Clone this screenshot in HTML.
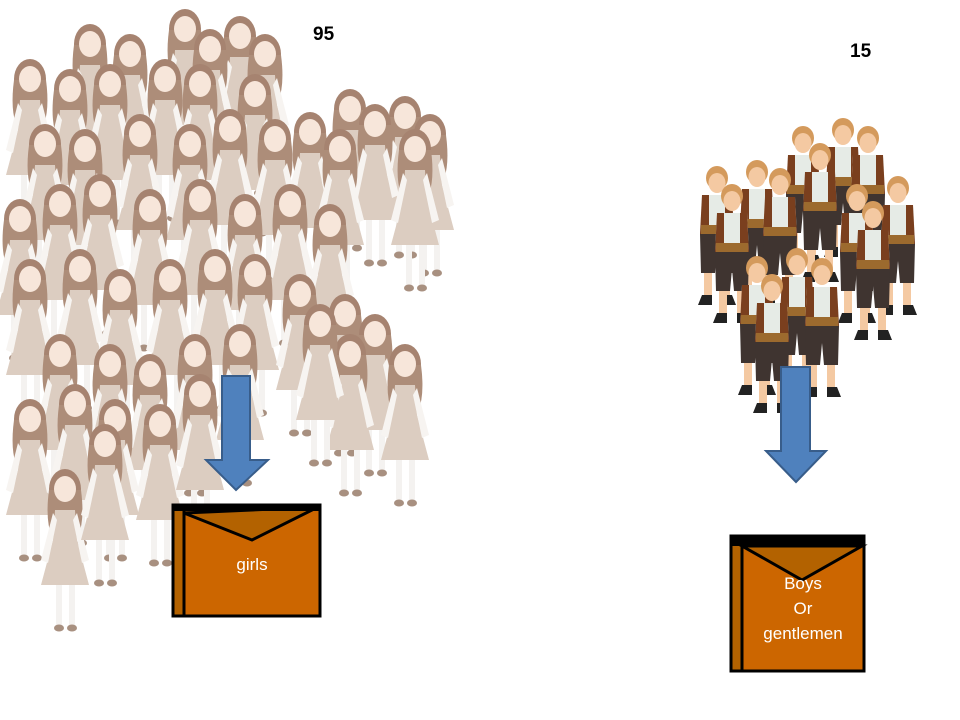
<!DOCTYPE html>
<html><head><meta charset="utf-8"><style>
html,body{margin:0;padding:0;background:#fff;}
body{width:960px;height:720px;position:relative;overflow:hidden;font-family:"Liberation Sans",sans-serif;}
.n{position:absolute;font-weight:bold;font-size:19px;color:#000;}
.lbl{position:absolute;color:#fff;font-family:"Liberation Sans",sans-serif;font-size:17px;text-align:center;line-height:25px;}
</style></head><body>
<svg width="960" height="720" style="position:absolute;left:0;top:0">
<defs>
<g id="girl">
  <ellipse cx="0" cy="24" rx="16" ry="20" fill="#a68370"/>
  <path d="M-16 25 Q-20 55 -13 72 L13 72 Q20 55 16 25Z" fill="#ad8d79"/>
  <ellipse cx="0" cy="24" rx="11" ry="13" fill="#f7e6da"/>
  <path d="M-10 45 L10 45 L12 75 L24 120 L-24 120 L-12 75Z" fill="#dccdc1"/>
  <path d="M-12 48 L-24 95 L-17 98 L-8 55Z" fill="#f7f4f1"/>
  <path d="M12 48 L24 95 L17 98 L8 55Z" fill="#f7f4f1"/>
  <rect x="-9" y="120" width="6" height="40" fill="#f4f2f0"/>
  <rect x="4" y="120" width="6" height="40" fill="#f4f2f0"/>
  <ellipse cx="-6" cy="163" rx="5" ry="3.5" fill="#a89080"/>
  <ellipse cx="7" cy="163" rx="5" ry="3.5" fill="#a89080"/>
</g>
<g id="boy">
  <ellipse cx="0" cy="10" rx="11" ry="12" fill="#d49a5c"/>
  <ellipse cx="0" cy="15" rx="8.5" ry="10" fill="#f4c9a2"/>
  <path d="M-15 27 L15 27 L17 66 L-17 66Z" fill="#e6ebe6"/>
  <path d="M-15 27 L-8 27 L-8 66 L-17 66Z" fill="#7a3f1e"/>
  <path d="M15 27 L8 27 L8 66 L17 66Z" fill="#7a3f1e"/>
  <rect x="-16" y="57" width="32" height="9" fill="#9c6a2e"/>
  <path d="M-17 66 L17 66 L16 105 L2 105 L0 83 L-2 105 L-16 105Z" fill="#3f3430"/>
  <rect x="-13" y="105" width="8" height="22" fill="#f4c9a2"/>
  <rect x="5" y="105" width="8" height="22" fill="#f4c9a2"/>
  <path d="M-15 127 L-5 127 L-5 137 L-19 137Z" fill="#222"/>
  <path d="M5 127 L15 127 L19 137 L5 137Z" fill="#222"/>
</g>
</defs>
<g>
<use href="#girl" x="90" y="20"/><use href="#girl" x="185" y="5"/><use href="#girl" x="240" y="12"/>
<use href="#girl" x="130" y="30"/><use href="#girl" x="210" y="25"/><use href="#girl" x="265" y="30"/>
<use href="#girl" x="30" y="55"/><use href="#girl" x="70" y="65"/><use href="#girl" x="110" y="60"/>
<use href="#girl" x="165" y="55"/><use href="#girl" x="200" y="60"/><use href="#girl" x="255" y="70"/>
<use href="#girl" x="350" y="85"/><use href="#girl" x="405" y="92"/><use href="#girl" x="375" y="100"/>
<use href="#girl" x="310" y="108"/><use href="#girl" x="275" y="115"/><use href="#girl" x="430" y="110"/>
<use href="#girl" x="45" y="120"/><use href="#girl" x="85" y="125"/><use href="#girl" x="140" y="110"/>
<use href="#girl" x="190" y="120"/><use href="#girl" x="230" y="105"/><use href="#girl" x="340" y="125"/>
<use href="#girl" x="415" y="125"/><use href="#girl" x="20" y="195"/><use href="#girl" x="60" y="180"/>
<use href="#girl" x="100" y="170"/><use href="#girl" x="150" y="185"/><use href="#girl" x="200" y="175"/>
<use href="#girl" x="245" y="190"/><use href="#girl" x="290" y="180"/><use href="#girl" x="330" y="200"/>
<use href="#girl" x="30" y="255"/><use href="#girl" x="80" y="245"/><use href="#girl" x="120" y="265"/>
<use href="#girl" x="170" y="255"/><use href="#girl" x="215" y="245"/><use href="#girl" x="255" y="250"/>
<use href="#girl" x="300" y="270"/><use href="#girl" x="345" y="290"/><use href="#girl" x="375" y="310"/>
<use href="#girl" x="405" y="340"/><use href="#girl" x="350" y="330"/><use href="#girl" x="320" y="300"/>
<use href="#girl" x="60" y="330"/><use href="#girl" x="110" y="340"/><use href="#girl" x="150" y="350"/>
<use href="#girl" x="195" y="330"/><use href="#girl" x="240" y="320"/><use href="#girl" x="30" y="395"/>
<use href="#girl" x="75" y="380"/><use href="#girl" x="115" y="395"/><use href="#girl" x="160" y="400"/>
<use href="#girl" x="200" y="370"/><use href="#girl" x="65" y="465"/><use href="#girl" x="105" y="420"/>
</g>
<g>
<use href="#boy" x="803" y="128"/><use href="#boy" x="843" y="120"/><use href="#boy" x="868" y="128"/>
<use href="#boy" x="820" y="145"/><use href="#boy" x="717" y="168"/><use href="#boy" x="757" y="162"/>
<use href="#boy" x="780" y="170"/><use href="#boy" x="732" y="186"/><use href="#boy" x="857" y="186"/>
<use href="#boy" x="898" y="178"/><use href="#boy" x="873" y="203"/><use href="#boy" x="757" y="258"/>
<use href="#boy" x="797" y="250"/><use href="#boy" x="772" y="276"/><use href="#boy" x="822" y="260"/>
</g>
<path d="M222 376 L250 376 L250 460 L268 460 L236 490 L206 460 L222 460Z" fill="#4f81bd" stroke="#385d8a" stroke-width="2"/>
<path d="M781 367 L810 367 L810 451 L826 451 L796 482 L766 451 L781 451Z" fill="#4f81bd" stroke="#385d8a" stroke-width="2"/>
<rect x="173" y="505" width="147" height="111" fill="#cc6600" stroke="#000" stroke-width="3"/>
<rect x="173" y="505" width="11" height="111" fill="#b36200" stroke="#000" stroke-width="3"/>
<path d="M184 513 L318 507 L252 540Z" fill="#b36200" stroke="#000" stroke-width="3"/>
<rect x="173" y="505" width="147" height="6" fill="#000"/>
<rect x="731" y="536" width="133" height="135" fill="#cc6600" stroke="#000" stroke-width="3"/>
<rect x="731" y="536" width="11" height="135" fill="#b36200" stroke="#000" stroke-width="3"/>
<path d="M742 546 L862 546 L802 580Z" fill="#b36200" stroke="#000" stroke-width="3"/>
<rect x="731" y="536" width="133" height="10" fill="#000"/>
</svg>
<div class="n" style="left:313px;top:24px">95</div>
<div class="n" style="left:850px;top:41px">15</div>
<div class="lbl" style="left:184px;top:552px;width:136px">girls</div>
<div class="lbl" style="left:742px;top:571px;width:122px">Boys<br>Or<br>gentlemen</div>
</body></html>
